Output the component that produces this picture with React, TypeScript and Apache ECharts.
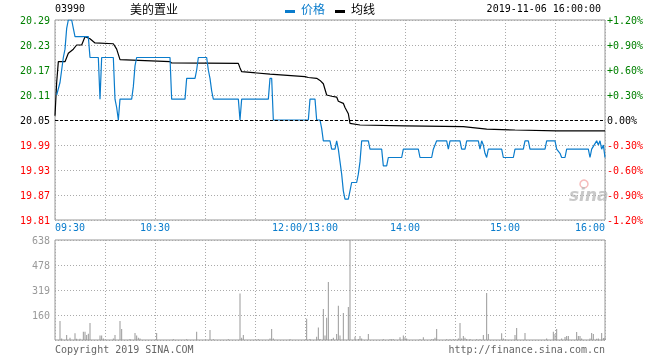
import React, { useEffect, useRef } from "react";
import * as echarts from "echarts";

// ---- data ----
const stockCode = "03990";
const stockName = "美的置业";
const dateTime = "2019-11-06 16:00:00";
const prevClose = 20.05;

// minutes since 09:30 (lunch break removed: 150 = 12:00/13:00, 330 = 16:00)
const xTickValues = [0, 30, 60, 90, 120, 150, 180, 210, 240, 270, 300, 330];
const xTickLabels = ["09:30", "", "10:30", "", "", "12:00/13:00", "", "14:00", "", "15:00", "", "16:00"];

const priceMinutes = [
  1, 3, 4, 5, 6, 7, 8, 10, 11, 12, 20, 21, 26, 27, 28, 35, 36, 37, 38, 39, 46, 47, 48, 49,
  69, 70, 78, 79, 84, 85, 86, 91, 92, 93, 94, 95, 110, 111, 112, 128, 129, 130, 131,
  152, 153, 156, 157, 159, 160, 161, 165, 166, 168, 169, 170, 171, 172, 173, 174, 176,
  177, 178, 181, 182, 183, 184, 188, 189, 196, 197, 199, 200, 208, 209, 218, 219, 226,
  227, 229, 235, 236, 237, 243, 244, 246, 247, 254, 255, 256, 257, 258, 259, 260, 268,
  269, 275, 276, 281, 282, 284, 285, 294, 295, 300, 301, 303, 304, 306, 307, 320, 321,
  322, 325, 326, 327, 328, 329, 330,
];
const priceValues = [
  20.11, 20.14, 20.17, 20.2, 20.22, 20.27, 20.29, 20.29, 20.27, 20.25, 20.25, 20.2, 20.2, 20.1, 20.2, 20.2, 20.1, 20.08, 20.05, 20.1, 20.1, 20.13, 20.18, 20.2,
  20.2, 20.1, 20.1, 20.15, 20.15, 20.17, 20.2, 20.2, 20.17, 20.15, 20.12, 20.1, 20.1, 20.05, 20.1, 20.1, 20.15, 20.15, 20.05,
  20.05, 20.1, 20.1, 20.05, 20.05, 20.03, 20.0, 20.0, 19.98, 19.98, 20.0, 19.98, 19.95, 19.92, 19.88, 19.86, 19.86,
  19.88, 19.9, 19.9, 19.92, 19.95, 20.0, 20.0, 19.98, 19.98, 19.94, 19.94, 19.96, 19.96, 19.98, 19.98, 19.96, 19.96,
  19.98, 20.0, 20.0, 19.98, 20.0, 20.0, 19.98, 19.98, 20.0, 20.0, 19.98, 20.0, 19.99, 19.97, 19.96, 19.98, 19.98,
  19.96, 19.96, 19.98, 19.98, 20.0, 20.0, 19.98, 19.98, 20.0, 20.0, 19.98, 19.97, 19.96, 19.96, 19.98, 19.98, 19.96,
  19.98, 20.0, 19.99, 20.0, 19.98, 19.99, 19.96,
];

const avgMinutes = [
  0, 1, 2, 6, 7, 8, 11, 13, 16, 18, 21, 24, 35, 37, 39, 69, 70, 110, 111, 112, 129, 150, 152,
  157, 159, 161, 163, 166, 169, 170, 173, 174, 176, 177, 183, 210, 245, 259, 276, 301, 330,
];
const avgValues = [
  20.06, 20.14, 20.19, 20.19, 20.2, 20.21, 20.22, 20.23, 20.23, 20.25, 20.245, 20.235, 20.233, 20.22, 20.195, 20.19, 20.187, 20.186, 20.175, 20.166, 20.16, 20.154, 20.152,
  20.15, 20.145, 20.137, 20.11, 20.107, 20.105, 20.095, 20.09, 20.08, 20.065, 20.042, 20.038, 20.036, 20.034, 20.028, 20.026, 20.024, 20.024,
];

const volMinutes = [
  3, 4, 7, 9, 12, 13, 15, 17, 18, 19, 20, 21, 27, 28, 29, 35, 36, 39, 40, 45, 48, 49, 50, 51,
  61, 71, 79, 85, 93, 95, 104, 111, 112, 113, 122, 129, 130, 131, 141, 151, 153, 157, 158,
  159, 161, 162, 163, 164, 166, 167, 169, 170, 171, 173, 176, 177, 180, 182, 183, 184, 188,
  197, 201, 202, 203, 207, 209, 210, 211, 219, 221, 226, 227, 228, 229, 235, 237, 239, 242,
  243, 244, 245, 246, 247, 249, 253, 255, 257, 259, 260, 268, 269, 276, 277, 282, 295, 299,
  300, 301, 304, 306, 307, 308, 313, 314, 315, 316, 321, 322, 323, 325, 326, 328, 329, 330,
];
const volValues = [
  121, 10, 32, 15, 43, 8, 8, 53, 53, 32, 40, 108, 28, 28, 10, 10, 32, 121, 70, 6, 45, 28, 15, 10,
  45, 5, 5, 53, 64, 5, 5, 296, 15, 32, 5, 10, 70, 10, 5, 136, 6, 21, 79,
  6, 198, 28, 142, 370, 6, 15, 38, 219, 28, 172, 210, 638, 21, 6, 25, 10, 38,
  4, 4, 4, 4, 17, 28, 17, 10, 4, 17, 4, 4, 15, 70, 4, 4, 4, 10,
  108, 10, 25, 15, 6, 6, 4, 4, 32, 300, 38, 43, 10, 32, 77, 45, 10, 53,
  38, 70, 10, 19, 25, 25, 51, 25, 25, 10, 10, 45, 38, 8, 10, 45, 13, 15,
];
const volMax = 638;
const volTickLabels = ["", "160", "319", "478", "638"];

const BLUE = "#0a7ccc";
const MONO = "DejaVu Sans Mono";

export default function App() {
  const ref = useRef<HTMLDivElement>(null);
  useEffect(() => {
    if (!ref.current) return;
    const chart = echarts.init(ref.current, undefined, { renderer: "svg" });
    const toCents = (p: number) => Math.round((p - prevClose) * 1000) / 10;
    const priceData = priceMinutes.map((m, i) => [m, toCents(priceValues[i])]);
    const avgData = avgMinutes.map((m, i) => [m, toCents(avgValues[i])]);
    const volData = volMinutes.map((m, i) => [m, volValues[i]]);
    const dotted = { color: "#aaa", width: 1, type: [1, 2] as any };
    const labelMap: Record<number, string> = {};
    xTickValues.forEach((v, i) => (labelMap[v] = xTickLabels[i]));

    const option: any = {
      animation: false,
      grid: [
        { left: 55, top: 20, width: 550, height: 200, show: true, borderColor: "#999", borderWidth: 1 },
        { left: 55, top: 240, width: 550, height: 100, show: true, borderColor: "#999", borderWidth: 1 },
      ],
      xAxis: [
        {
          type: "value", gridIndex: 0, min: 0, max: 330, interval: 30,
          axisLine: { show: false }, axisTick: { show: false },
          splitLine: { show: true, lineStyle: dotted },
          axisLabel: {
            formatter: (v: number) => labelMap[Math.round(v)] ?? "",
            color: BLUE, fontSize: 10, fontFamily: MONO, margin: 2,
            showMinLabel: true, showMaxLabel: true,
            alignMinLabel: "left", alignMaxLabel: "right",
          },
        },
        {
          type: "value", gridIndex: 1, min: 0, max: 330, interval: 30,
          axisLine: { show: false }, axisTick: { show: false },
          splitLine: { show: true, lineStyle: dotted },
          axisLabel: { show: false },
        },
      ],
      yAxis: [
        {
          type: "value", gridIndex: 0, position: "left", min: -24, max: 24, interval: 6,
          axisLine: { show: false }, axisTick: { show: false },
          splitLine: { show: true, lineStyle: dotted },
          axisLabel: {
            formatter: (v: number) => (prevClose + Math.round(v) / 100).toFixed(2),
            color: (v: any) => {
              const n = Math.round(Number(v));
              return n > 0 ? "#008000" : n < 0 ? "#ff0000" : "#000";
            },
            fontSize: 10, fontFamily: MONO, margin: 5, padding: [0, 0, 6, 0],
          },
        },
        {
          type: "value", gridIndex: 0, position: "right", min: -24, max: 24, interval: 6,
          axisLine: { show: false }, axisTick: { show: false }, splitLine: { show: false },
          axisLabel: {
            formatter: (v: number) => {
              const n = Math.round(v);
              const pct = (n / prevClose).toFixed(2) + "%";
              return n > 0 ? "+" + pct : n === 0 ? "0.00%" : pct;
            },
            color: (v: any) => {
              const n = Math.round(Number(v));
              return n > 0 ? "#008000" : n < 0 ? "#ff0000" : "#000";
            },
            fontSize: 10, fontFamily: MONO, margin: 2, padding: [0, 0, 6, 0],
          },
        },
        {
          type: "value", gridIndex: 1, min: 0, max: volMax, interval: volMax / 4,
          axisLine: { show: false }, axisTick: { show: false },
          splitLine: { show: true, lineStyle: dotted },
          axisLabel: {
            formatter: (v: number) => volTickLabels[Math.round(v / (volMax / 4))] ?? "",
            color: "#999", fontSize: 10, fontFamily: MONO, margin: 5, padding: [0, 0, 5, 0],
          },
        },
      ],
      series: [
        {
          name: "价格", type: "line", xAxisIndex: 0, yAxisIndex: 0, data: priceData,
          symbol: "none", lineStyle: { color: BLUE, width: 1.2 }, z: 3,
          markLine: {
            silent: true, symbol: ["none", "none"], label: { show: false },
            lineStyle: { color: "#000", width: 1, type: [3, 2] },
            data: [{ yAxis: 0 }],
          },
        },
        {
          name: "均线", type: "line", xAxisIndex: 0, yAxisIndex: 0, data: avgData,
          symbol: "none", lineStyle: { color: "#000", width: 1.2 }, z: 2,
        },
        {
          name: "成交量", type: "bar", xAxisIndex: 1, yAxisIndex: 2, data: volData,
          barWidth: 1, itemStyle: { color: "#999" },
        },
      ],
      graphic: [
        { type: "text", left: 55, top: 3, style: { text: stockCode, fill: "#000", font: `10px "${MONO}"` } },
        { type: "text", left: 130, top: 2, style: { text: stockName, fill: "#000", font: '12px "Noto Sans CJK SC"' } },
        { type: "rect", shape: { x: 285, y: 10, width: 10, height: 3 }, style: { fill: BLUE } },
        { type: "text", left: 301, top: 2, style: { text: "价格", fill: BLUE, font: '12px "Noto Sans CJK SC"' } },
        { type: "rect", shape: { x: 335, y: 10, width: 10, height: 3 }, style: { fill: "#000" } },
        { type: "text", left: 351, top: 2, style: { text: "均线", fill: "#000", font: '12px "Noto Sans CJK SC"' } },
        { type: "text", right: 59, top: 3, style: { text: dateTime, fill: "#000", font: `10px "${MONO}"` } },
        { type: "text", left: 55, top: 344, style: { text: "Copyright 2019 SINA.COM", fill: "#666", font: `10px "${MONO}"` } },
        { type: "text", right: 55, top: 344, style: { text: "http://finance.sina.com.cn", fill: "#666", font: `10px "${MONO}"` } },
        { type: "circle", shape: { cx: 584, cy: 184, r: 4 }, style: { fill: "none", stroke: "#f2a0a0", lineWidth: 1.5, opacity: 0.7 } },
        { type: "text", left: 569, top: 186, style: { text: "sina", fill: "#bbb", opacity: 0.8, font: 'italic bold 17px "DejaVu Sans"' } },
      ],
    };
    chart.setOption(option);
    return () => chart.dispose();
  }, []);
  return <div ref={ref} style={{ position: "fixed", left: 0, top: 0, width: 660, height: 360 }} />;
}
